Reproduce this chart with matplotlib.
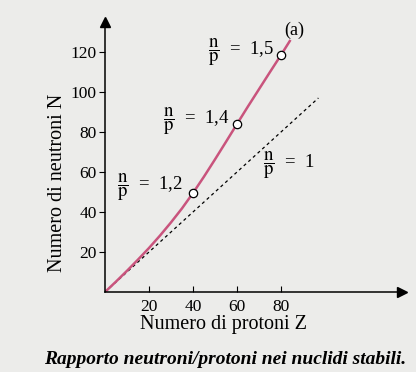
import matplotlib
matplotlib.use("Agg")
import matplotlib.pyplot as plt

plt.rcParams["font.family"] = ["Liberation Serif", "DejaVu Serif"]
plt.rcParams["mathtext.fontset"] = "stix"

# curve of stable nuclides (Z, N)
z_curve = [0, 5, 10, 15, 20, 25, 30, 35, 40, 45, 50, 55, 60, 65, 70, 75, 80, 84]
n_curve = [0, 5.2, 10.6, 16.2, 22, 28.2, 34.8, 41.8, 49.5, 57.7, 66.3, 75.1, 84,
           92.8, 101.4, 110, 118.5, 125.5]
# marked points
z_pts = [40, 60, 80]
n_pts = [49.5, 84, 118.5]
ratio_labels = ["1,2", "1,4", "1,5"]
# n/p = 1 line
z_line = [0, 97]
n_line = [0, 97]

bg = "#ececea"
fig = plt.figure(figsize=(4.16, 3.72), dpi=100, facecolor=bg)
ax = fig.add_axes([105/416, 80/372, 297/416, 270/372])
ax.set_facecolor(bg)

ax.plot(z_line, n_line, ls=(0, (2.5, 2.5)), color="black", lw=0.9)
ax.plot(z_curve, n_curve, color="#c9547d", lw=1.8)
ax.plot(z_pts, n_pts, "o", ms=6, mfc="white", mec="black", mew=0.9, zorder=5)

ax.set_xlim(0, 135)
ax.set_ylim(0, 135)
ax.set_xticks([20, 40, 60, 80])
ax.set_yticks([20, 40, 60, 80, 100, 120])
ax.tick_params(axis="x", direction="in", length=4, labelsize=12.5, pad=5)
ax.tick_params(axis="y", direction="out", length=4, labelsize=12.5, pad=2)
for s in ["top", "right"]:
    ax.spines[s].set_visible(False)
for s in ["left", "bottom"]:
    ax.spines[s].set_linewidth(1.1)
ax.plot(1, 0, ">k", ms=7, transform=ax.transAxes, clip_on=False)
ax.plot(0, 1, "^k", ms=7, transform=ax.transAxes, clip_on=False)

frac = r"$\dfrac{\mathrm{n}}{\mathrm{p}}$"
ax.text(5.5, 52.5, frac + "  =  " + ratio_labels[0], fontsize=13.5, ha="left", va="center")
ax.text(26.4, 85.5, frac + "  =  " + ratio_labels[1], fontsize=13.5, ha="left", va="center")
ax.text(46.8, 120, frac + "  =  " + ratio_labels[2], fontsize=13.5, ha="left", va="center")
ax.text(71.8, 63.5, frac + "  =  1", fontsize=13.5, ha="left", va="center")
ax.text(86, 131, "(a)", fontsize=13, ha="center", va="center")

fig.text(57/416, 1 - 183/372, "Numero di neutroni N", rotation=90,
         ha="center", va="center", fontsize=14.5)
fig.text(224/416, 1 - 324/372, "Numero di protoni Z", ha="center", va="center",
         fontsize=14.5)
fig.text(225/416, 1 - 360/372, "Rapporto neutroni/protoni nei nuclidi stabili.",
         ha="center", va="center", fontsize=14, fontweight="bold", style="italic")

fig.savefig("out.png", dpi=100, facecolor=bg)
